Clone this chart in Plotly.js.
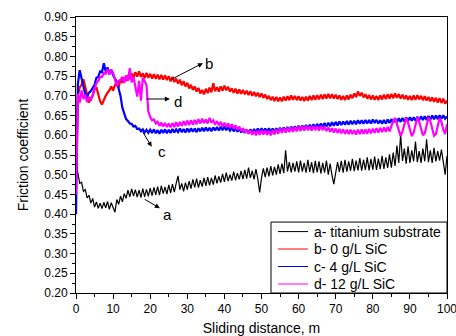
<!DOCTYPE html>
<html>
<head>
<meta charset="utf-8">
<script src="https://cdn.plot.ly/plotly-3.0.1.min.js"></script>
<style>html,body{margin:0;padding:0;background:#fff}#chart{width:456px;height:336px}</style>
</head>
<body>
<div id="chart"></div>
<script>
// Sliding distance sampled every 0.5 m, from 0 m to 100 m
const distanceStart = 0;
const distanceStep = 0.5;

const seriesNames = ["a- titanium substrate", "b- 0 g/L SiC", "c- 4 g/L SiC", "d- 12 g/L SiC"];

const titaniumSubstrate = [
0.530,0.502,0.478,0.481,0.458,0.462,0.441,0.448,0.428,0.440,
0.418,0.431,0.415,0.428,0.414,0.430,0.416,0.432,0.412,0.429,
0.418,0.405,0.437,0.425,0.446,0.431,0.452,0.440,0.461,0.444,
0.464,0.446,0.462,0.443,0.461,0.442,0.465,0.444,0.463,0.445,
0.466,0.447,0.468,0.449,0.470,0.448,0.472,0.452,0.469,0.451,
0.474,0.454,0.476,0.456,0.478,0.497,0.462,0.478,0.458,0.480,
0.462,0.484,0.465,0.488,0.468,0.490,0.467,0.486,0.470,0.492,
0.472,0.494,0.473,0.492,0.475,0.498,0.478,0.496,0.480,0.502,
0.482,0.505,0.484,0.500,0.485,0.508,0.486,0.504,0.488,0.510,
0.489,0.512,0.490,0.518,0.492,0.510,0.488,0.514,0.490,0.455,
0.492,0.516,0.494,0.518,0.496,0.522,0.498,0.520,0.500,0.526,
0.502,0.528,0.504,0.562,0.508,0.532,0.506,0.530,0.508,0.534,
0.506,0.536,0.508,0.530,0.505,0.538,0.507,0.532,0.504,0.535,
0.506,0.534,0.503,0.530,0.505,0.536,0.500,0.528,0.498,0.476,
0.505,0.532,0.507,0.535,0.505,0.538,0.508,0.534,0.510,0.540,
0.509,0.536,0.511,0.542,0.510,0.538,0.512,0.544,0.511,0.540,
0.513,0.546,0.512,0.541,0.514,0.548,0.515,0.544,0.517,0.552,
0.518,0.556,0.522,0.574,0.530,0.602,0.535,0.566,0.528,0.572,
0.530,0.562,0.534,0.584,0.532,0.560,0.530,0.566,0.534,0.590,
0.532,0.562,0.530,0.568,0.534,0.560,0.536,0.564,0.532,0.500,
0.548];

const sic0 = [
0.500,0.700,0.722,0.728,0.742,0.718,0.703,0.683,0.694,0.700,
0.716,0.722,0.700,0.686,0.678,0.692,0.700,0.708,0.714,0.724,
0.713,0.728,0.732,0.722,0.742,0.733,0.747,0.738,0.752,0.743,
0.757,0.746,0.760,0.749,0.762,0.748,0.757,0.745,0.758,0.746,
0.756,0.744,0.755,0.743,0.754,0.742,0.753,0.741,0.752,0.740,
0.750,0.737,0.748,0.735,0.744,0.731,0.741,0.727,0.737,0.724,
0.733,0.719,0.728,0.715,0.724,0.711,0.720,0.706,0.715,0.704,
0.718,0.707,0.721,0.709,0.732,0.712,0.722,0.711,0.724,0.713,
0.726,0.714,0.723,0.711,0.719,0.708,0.718,0.706,0.716,0.705,
0.715,0.704,0.713,0.702,0.712,0.700,0.710,0.699,0.708,0.697,
0.706,0.695,0.703,0.692,0.700,0.689,0.698,0.687,0.697,0.686,
0.696,0.686,0.698,0.688,0.699,0.689,0.701,0.690,0.700,0.689,
0.699,0.688,0.697,0.687,0.698,0.688,0.700,0.689,0.701,0.690,
0.702,0.691,0.703,0.692,0.704,0.693,0.705,0.694,0.704,0.693,
0.703,0.692,0.701,0.690,0.700,0.689,0.701,0.691,0.703,0.694,
0.706,0.697,0.711,0.700,0.708,0.696,0.704,0.693,0.702,0.691,
0.701,0.690,0.700,0.689,0.701,0.691,0.703,0.692,0.704,0.693,
0.705,0.694,0.706,0.695,0.704,0.693,0.703,0.692,0.701,0.690,
0.700,0.689,0.701,0.690,0.702,0.691,0.700,0.689,0.699,0.688,
0.697,0.686,0.696,0.685,0.695,0.683,0.694,0.682,0.693,0.680,
0.688];

const sic4 = [
0.400,0.730,0.765,0.742,0.728,0.704,0.698,0.708,0.712,0.722,
0.728,0.746,0.748,0.762,0.760,0.783,0.762,0.772,0.758,0.766,
0.752,0.744,0.736,0.718,0.700,0.670,0.652,0.641,0.636,0.630,
0.629,0.622,0.624,0.616,0.617,0.610,0.615,0.607,0.614,0.606,
0.614,0.606,0.615,0.605,0.613,0.604,0.614,0.606,0.615,0.605,
0.614,0.606,0.616,0.607,0.615,0.608,0.617,0.608,0.616,0.607,
0.617,0.608,0.618,0.609,0.617,0.608,0.618,0.610,0.619,0.610,
0.620,0.611,0.619,0.610,0.620,0.612,0.621,0.612,0.622,0.613,
0.622,0.613,0.621,0.612,0.619,0.610,0.618,0.609,0.617,0.607,
0.615,0.606,0.614,0.605,0.615,0.606,0.616,0.607,0.617,0.608,
0.618,0.609,0.617,0.608,0.618,0.609,0.617,0.608,0.618,0.609,
0.619,0.610,0.620,0.611,0.621,0.612,0.622,0.613,0.623,0.614,
0.624,0.615,0.625,0.616,0.626,0.617,0.627,0.618,0.628,0.619,
0.629,0.620,0.630,0.621,0.631,0.622,0.632,0.623,0.633,0.624,
0.634,0.625,0.635,0.626,0.635,0.627,0.636,0.627,0.637,0.628,
0.637,0.628,0.638,0.629,0.638,0.629,0.639,0.630,0.639,0.630,
0.640,0.631,0.639,0.630,0.638,0.629,0.639,0.630,0.640,0.631,
0.641,0.632,0.642,0.633,0.643,0.634,0.644,0.635,0.645,0.636,
0.646,0.637,0.646,0.637,0.647,0.638,0.648,0.639,0.648,0.639,
0.649,0.640,0.650,0.641,0.650,0.641,0.651,0.642,0.651,0.642,
0.648];

const sic12 = [
0.450,0.705,0.683,0.714,0.692,0.703,0.684,0.697,0.688,0.706,
0.718,0.732,0.738,0.748,0.748,0.758,0.756,0.768,0.754,0.766,
0.758,0.742,0.724,0.738,0.740,0.748,0.733,0.752,0.738,0.770,
0.734,0.748,0.718,0.698,0.738,0.688,0.746,0.738,0.728,0.660,
0.646,0.638,0.640,0.630,0.634,0.624,0.632,0.622,0.631,0.621,
0.630,0.620,0.631,0.621,0.633,0.622,0.634,0.624,0.636,0.625,
0.637,0.626,0.638,0.627,0.639,0.628,0.641,0.630,0.642,0.631,
0.640,0.630,0.644,0.632,0.638,0.627,0.636,0.625,0.634,0.623,
0.632,0.621,0.630,0.619,0.628,0.617,0.625,0.614,0.622,0.611,
0.618,0.607,0.615,0.604,0.612,0.601,0.611,0.600,0.612,0.601,
0.613,0.602,0.612,0.601,0.611,0.600,0.613,0.602,0.615,0.604,
0.617,0.606,0.618,0.607,0.619,0.608,0.620,0.609,0.621,0.610,
0.622,0.611,0.623,0.612,0.624,0.613,0.623,0.612,0.624,0.613,
0.623,0.612,0.624,0.613,0.622,0.611,0.620,0.609,0.618,0.607,
0.617,0.606,0.616,0.605,0.615,0.604,0.614,0.603,0.614,0.603,
0.613,0.602,0.614,0.603,0.615,0.604,0.615,0.604,0.616,0.605,
0.617,0.606,0.618,0.607,0.619,0.608,0.620,0.609,0.621,0.610,
0.625,0.636,0.644,0.630,0.612,0.598,0.610,0.628,0.644,0.632,
0.612,0.598,0.606,0.626,0.646,0.634,0.614,0.600,0.605,0.625,
0.645,0.636,0.616,0.599,0.603,0.624,0.643,0.634,0.614,0.603,
0.628];

const seriesValues = [titaniumSubstrate, sic0, sic4, sic12];
const seriesColors = ["#000000", "#ff0000", "#0000ff", "#ff00ff"];
const seriesWidths = [1.2, 2.2, 2.2, 2.2];

// curve labels: [label, tail x, tail y, head x, head y, text x, text y]
const curveLabels = [
  ["a", 18.1, 0.440, 22.6, 0.415, 24.6, 0.398],
  ["b", 25.3, 0.740, 34.2, 0.783, 35.9, 0.782],
  ["c", 17.7, 0.613, 20.4, 0.571, 23.1, 0.558],
  ["d", 18.6, 0.692, 25.3, 0.692, 27.6, 0.685]
];

const FONT = '"Liberation Sans", Arial, sans-serif';

const traces = seriesValues.map((vals, i) => ({
  type: 'scatter', mode: 'lines',
  name: seriesNames[i],
  x0: distanceStart, dx: distanceStep,
  y: vals,
  showlegend: false,
  line: {color: seriesColors[i], width: seriesWidths[i]}
}));

const annotations = [];
curveLabels.forEach(l => {
  annotations.push({
    x: l[3], y: l[4], xref: 'x', yref: 'y',
    ax: l[1], ay: l[2], axref: 'x', ayref: 'y',
    text: '', showarrow: true, arrowhead: 2, arrowsize: 1, arrowwidth: 1, arrowcolor: '#000'
  });
  annotations.push({
    x: l[5], y: l[6], xref: 'x', yref: 'y', text: l[0], showarrow: false,
    font: {family: FONT, size: 15, color: '#000'}
  });
});

// Legend box (drawn in paper coordinates): a compact boxed key in the lower right
const shapes = [{
  type: 'rect', xref: 'paper', yref: 'paper',
  x0: 0.5256, x1: 1, y0: 0, y1: 0.257,
  line: {color: '#000', width: 1}, fillcolor: '#fff', layer: 'above'
}];
const legendRowY = [0.2225, 0.1594, 0.0960, 0.0326];
seriesNames.forEach((name, i) => {
  shapes.push({
    type: 'line', xref: 'paper', yref: 'paper',
    x0: 0.5445, x1: 0.6253, y0: legendRowY[i], y1: legendRowY[i],
    line: {color: seriesColors[i], width: 1}, layer: 'above'
  });
  annotations.push({
    xref: 'paper', yref: 'paper', x: 0.636, y: legendRowY[i],
    xanchor: 'left', yanchor: 'middle', text: name, showarrow: false,
    font: {family: FONT, size: 14, color: '#000'}
  });
});

const layout = {
  width: 456, height: 336,
  margin: {l: 76, r: 9, t: 17, b: 43, pad: 0},
  paper_bgcolor: '#fff', plot_bgcolor: '#fff',
  font: {family: FONT, size: 12, color: '#000'},
  showlegend: false,
  xaxis: {
    range: [0, 100], dtick: 10, tick0: 0,
    ticks: 'outside', ticklen: 5, tickwidth: 1, tickcolor: '#000',
    ticklabeloverflow: 'allow',
    minor: {ticks: 'outside', ticklen: 3, dtick: 5, tickcolor: '#000'},
    showline: true, linecolor: '#000', linewidth: 1, mirror: true,
    showgrid: false, zeroline: false,
    tickfont: {family: FONT, size: 12, color: '#000'},
    title: {text: 'Sliding distance, m', font: {family: FONT, size: 14, color: '#000'}, standoff: 9}
  },
  yaxis: {
    range: [0.2, 0.9], dtick: 0.05, tick0: 0.2, tickformat: '.2f',
    ticks: 'outside', ticklen: 5, tickwidth: 1, tickcolor: '#000',
    minor: {ticks: 'outside', ticklen: 3, dtick: 0.025, tickcolor: '#000'},
    showline: true, linecolor: '#000', linewidth: 1, mirror: true,
    showgrid: false, zeroline: false,
    tickfont: {family: FONT, size: 12, color: '#000'},
    title: {text: 'Friction coefficient', font: {family: FONT, size: 14, color: '#000'}, standoff: 12}
  },
  shapes: shapes,
  annotations: annotations
};

Plotly.newPlot('chart', traces, layout, {staticPlot: true, displayModeBar: false});
</script>
</body>
</html>
